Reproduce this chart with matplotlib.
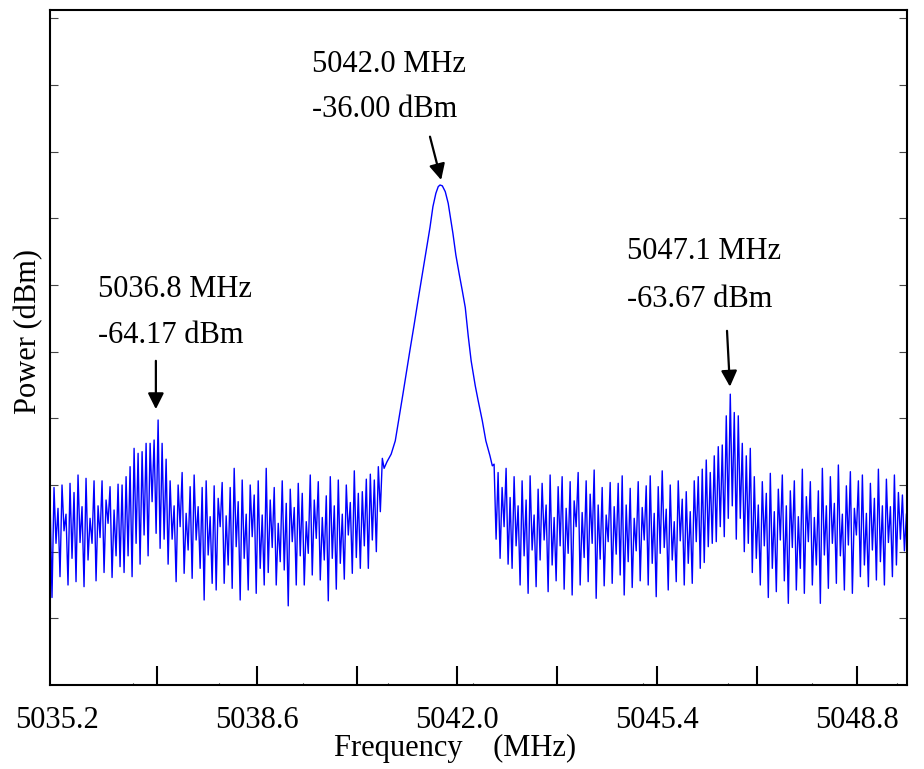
import matplotlib
matplotlib.use("Agg")
import matplotlib.pyplot as plt
import numpy as np

plt.rcParams['font.family'] = ['Liberation Serif', 'DejaVu Serif']

# sweep edges of the two noise-floor stretches (MHz)
left_span = (5035.08, 5040.73)
right_span = (5042.63, 5049.64)

# noise floor left of the carrier (dBm), includes the lower sideband spur
noise_left = [
    -73.5, -85.5, -72.3, -79.0, -74.8, -83.0, -72.0, -77.5, -75.5, -84.0, -71.8, -80.8,
    -72.9, -83.6, -70.8, -78.9, -74.6, -84.2, -71.2, -81.0, -76.0, -79.0, -71.5, -83.5,
    -74.5, -78.3, -71.5, -82.5, -73.8, -76.6, -72.2, -83.1, -75.0, -80.5, -71.9, -81.8,
    -72.0, -82.5, -71.0, -80.5, -69.8, -83.0, -67.6, -79.0, -68.2, -81.5, -68.0, -78.0,
    -67.0, -80.5, -67.0, -74.0, -66.6, -77.8, -64.2, -79.6, -67.0, -78.5, -68.9, -81.5,
    -71.5, -78.5, -74.5, -83.6, -72.0, -77.0, -70.5, -82.6, -75.4, -79.8, -72.2, -83.2,
    -70.8, -78.6, -74.6, -82.0, -72.3, -85.8, -71.5, -80.4, -75.8, -83.8, -72.1, -84.6,
    -73.6, -77.0, -71.7, -83.8, -75.7, -81.6, -72.3, -84.4, -70.0, -79.4, -74.0, -85.8,
    -71.4, -80.8, -75.5, -84.6, -72.0, -78.2, -73.2, -85.0, -71.5, -82.0, -75.6, -84.0,
    -70.0, -82.5, -73.8, -79.5, -72.3, -84.0, -76.6, -81.2, -71.5, -82.2, -74.2, -86.5,
    -72.5, -78.8, -74.7, -84.0, -71.8, -80.5, -73.0, -84.0, -76.4, -80.2, -70.8, -82.8,
    -73.8, -78.4, -71.6, -83.4, -75.9, -81.0, -73.3, -85.9, -71.0, -80.8, -74.5, -84.5,
    -71.4, -81.4, -75.5, -83.3, -72.0, -78.0, -74.1, -82.6, -70.3, -80.7, -73.0, -82.0,
    -72.8, -79.3, -71.3, -82.0, -70.7, -78.6, -71.4, -80.0, -69.8, -75.2, -68.8,
]

# main carrier lobe
peak_freq = [
    5040.76, 5040.81, 5040.88, 5040.95, 5041.02, 5041.08, 5041.15, 5041.20, 5041.27,
    5041.34, 5041.41, 5041.47, 5041.54, 5041.59, 5041.64, 5041.68, 5041.71, 5041.75,
    5041.80, 5041.85, 5041.90, 5041.93, 5041.98, 5042.04, 5042.09, 5042.14, 5042.19,
    5042.24, 5042.31, 5042.36, 5042.43, 5042.49, 5042.56, 5042.60,
]
peak_power = [
    -70.0, -69.2, -68.3, -66.7, -63.7, -61.1, -58.0, -55.8, -52.8,
    -49.7, -46.7, -44.1, -41.1, -38.6, -37.0, -36.2, -36.0, -36.1,
    -36.8, -38.2, -40.5, -41.8, -44.4, -46.8, -48.7, -50.7, -54.1,
    -57.1, -60.1, -61.9, -64.3, -66.7, -68.5, -69.7,
]

# noise floor right of the carrier, includes the upper sideband spur
noise_right = [
    -69.5, -78.5, -70.5, -80.8, -72.3, -77.0, -70.0, -81.5, -73.5, -82.0, -71.0, -79.3,
    -74.5, -84.0, -71.5, -80.5, -73.8, -85.0, -70.9, -79.8, -75.6, -84.2, -72.5, -81.0,
    -71.8, -78.6, -74.4, -84.8, -70.8, -81.6, -75.9, -83.5, -72.2, -79.3, -71.0, -84.5,
    -74.8, -80.2, -71.6, -85.2, -73.9, -77.0, -70.5, -84.0, -75.3, -80.7, -71.5, -83.6,
    -73.1, -79.0, -70.2, -85.6, -74.4, -80.9, -72.3, -84.1, -75.6, -78.8, -71.7, -83.8,
    -74.6, -80.3, -71.8, -82.8, -70.9, -85.2, -74.4, -81.2, -72.4, -84.3, -76.0, -79.9,
    -71.6, -83.5, -74.7, -78.6, -72.1, -84.0, -70.9, -81.4, -75.4, -85.4, -72.2, -80.2,
    -70.3, -79.5, -74.9, -84.6, -72.0, -81.0, -76.4, -83.6, -71.5, -78.7, -73.7, -84.0,
    -72.8, -81.4, -75.2, -83.8, -71.5, -78.8, -71.0, -82.0, -70.1, -81.3, -69.0, -79.4,
    -70.5, -79.0, -68.5, -78.8, -67.4, -77.0, -67.2, -78.2, -63.7, -76.0, -61.1, -74.5,
    -63.3, -78.5, -63.7, -76.0, -67.0, -80.0, -68.5, -79.0, -67.6, -82.5, -71.0, -80.8,
    -74.4, -84.0, -71.6, -79.3, -73.0, -85.5, -70.6, -82.0, -75.2, -84.8, -72.5, -78.6,
    -70.8, -83.5, -74.5, -86.2, -72.7, -79.5, -71.5, -84.6, -75.8, -82.0, -70.1, -85.0,
    -73.4, -78.8, -71.6, -84.0, -75.9, -81.6, -72.7, -86.2, -70.0, -80.4, -74.5, -84.4,
    -71.0, -79.0, -74.2, -83.8, -69.6, -80.5, -75.5, -84.6, -72.1, -79.2, -70.4, -85.0,
    -74.8, -78.0, -71.5, -83.0, -70.8, -81.6, -75.4, -84.2, -71.8, -79.8, -73.6, -83.4,
    -70.1, -81.2, -74.5, -84.0, -71.3, -78.9, -74.6, -83.0, -70.8, -81.6, -72.9, -78.5,
    -73.2, -79.9, -75.5,
]

# axis ticks
major_ticks = [5035.2, 5036.9, 5038.6, 5040.3, 5042.0, 5043.7, 5045.4, 5047.1, 5048.8]
major_labels = ['5035.2', '', '5038.6', '', '5042.0', '', '5045.4', '', '5048.8']
minor_ticks = [5036.49, 5037.95, 5039.38, 5040.83, 5042.27, 5045.16, 5046.61, 5048.04, 5049.48]
y_ticks = [-88, -80, -72, -64, -56, -48, -40, -32, -24, -16]

# marker readouts: (text lines, text pos, arrow tail, arrow tip)
markers = [
    (['5036.8 MHz', '-64.17 dBm'], (5035.90, -49.5, -55.0), (5036.88, -57.1), (5036.88, -62.9)),
    (['5042.0 MHz', '-36.00 dBm'], (5039.54, -22.4, -27.8), (5041.54, -30.2), (5041.73, -35.4)),
    (['5047.1 MHz', '-63.67 dBm'], (5044.89, -44.9, -50.7), (5046.59, -53.5), (5046.64, -60.2)),
]

freq = np.concatenate([
    np.linspace(left_span[0], left_span[1], len(noise_left)),
    peak_freq,
    np.linspace(right_span[0], right_span[1], len(noise_right)),
])
power = np.concatenate([noise_left, peak_power, noise_right])

fig = plt.figure(figsize=(9.24, 7.69), dpi=100)
ax = fig.add_axes([50 / 924, 84 / 769, 857 / 924, 675 / 769])

ax.plot(freq, power, color='#0000ff', lw=1.0)

ax.set_xlim(5035.08, 5049.65)
ax.set_ylim(-96, -15)

ax.set_xticks(major_ticks)
ax.set_xticklabels(major_labels, fontsize=22)
ax.set_xticks(minor_ticks, minor=True)
ax.xaxis.get_major_ticks()[0].tick1line.set_visible(False)
ax.tick_params(axis='x', which='major', direction='in', length=13.5, width=1.5, pad=15)
ax.tick_params(axis='x', which='minor', direction='in', length=1.5, width=0.8)

ax.set_yticks(y_ticks)
ax.set_yticklabels([])
ax.tick_params(axis='y', direction='in', length=6, width=0.8, left=True, right=True,
               color='#444444')

for s in ax.spines.values():
    s.set_linewidth(1.5)

ax.set_xlabel('Frequency    (MHz)', fontsize=22)
ax.xaxis.set_label_coords(0.4726, -0.073)
ax.set_ylabel('Power (dBm)', fontsize=22)
ax.yaxis.set_label_coords(-0.008, 0.523)

for lines, (tx, ty1, ty2), tail, tip in markers:
    ax.text(tx, ty1, lines[0], fontsize=22, va='baseline', ha='left')
    ax.text(tx, ty2, lines[1], fontsize=22, va='baseline', ha='left')
    ax.annotate('', xy=tip, xytext=tail,
                arrowprops=dict(arrowstyle='-|>', color='black', lw=1.6,
                                mutation_scale=24, shrinkA=0, shrinkB=0))

fig.savefig('out.png', dpi=100)
